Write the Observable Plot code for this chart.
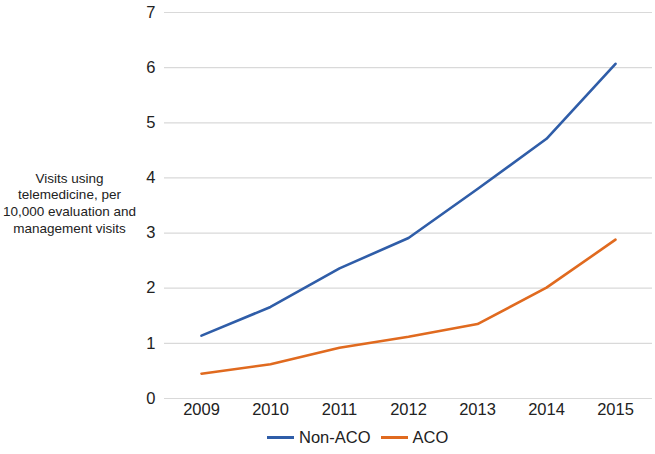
<!DOCTYPE html>
<html>
<head>
<meta charset="utf-8">
<script src="https://cdn.jsdelivr.net/npm/d3@7"></script>
<script src="https://cdn.jsdelivr.net/npm/@observablehq/plot@0.6"></script>
<style>
  body { margin: 0; background: #fff; font-family: "Liberation Sans", Arial, sans-serif; }
  #wrap { position: relative; width: 655px; height: 454px; }
  #legend { position: absolute; left: 267px; top: 428px; display: flex; align-items: center; font-size: 16.5px; color: #222; }
  .sw { display: inline-block; width: 27px; height: 3px; margin-right: 5px; }
  .item { display: flex; align-items: center; margin-right: 10px; }
</style>
</head>
<body>
<div id="wrap">
  <div id="chart"></div>
  <div id="legend"></div>
</div>
<script>
const years = ["2009", "2010", "2011", "2012", "2013", "2014", "2015"];
const nonACO = [1.14, 1.66, 2.36, 2.91, 3.80, 4.71, 6.07];
const aco = [0.45, 0.62, 0.92, 1.12, 1.35, 2.01, 2.88];
const seriesNames = ["Non-ACO", "ACO"];
const seriesColors = ["#2f5da8", "#e06a1f"];
const yTicks = [0, 1, 2, 3, 4, 5, 6, 7];
const yLabel = "Visits using\ntelemedicine, per\n10,000 evaluation and\nmanagement visits";

const data = [];
years.forEach((yr, i) => {
  data.push({year: yr, value: nonACO[i], series: seriesNames[0]});
  data.push({year: yr, value: aco[i], series: seriesNames[1]});
});

const chart = Plot.plot({
  width: 655,
  height: 426,
  marginTop: 12,
  marginBottom: 28,
  marginLeft: 164,
  marginRight: 3,
  style: { fontFamily: "Liberation Sans, Arial, sans-serif", fontSize: "16.5px", color: "#222", background: "#fff" },
  x: { type: "point", domain: years, padding: 0.5, label: null },
  y: { domain: [0, 7], label: null },
  color: { domain: seriesNames, range: seriesColors },
  marks: [
    Plot.ruleY(yTicks, { stroke: "#d9d9d9", strokeWidth: 1.2 }),
    Plot.axisX({ tickSize: 0, tickPadding: 5, label: null, fontSize: 16.5 }),
    Plot.axisY(yTicks, { tickSize: 0, tickPadding: 9, label: null, fontSize: 16.5, tickFormat: "d" }),
    Plot.line(data, { x: "year", y: "value", z: "series", stroke: "series", strokeWidth: 2.6 }),
    Plot.text([yLabel], { frameAnchor: "left", dx: -95, dy: -3, textAnchor: "middle", lineHeight: 1.25, fontSize: 13.5, fill: "#222" })
  ]
});
document.getElementById("chart").appendChild(chart);

const legend = document.getElementById("legend");
seriesNames.forEach((name, i) => {
  const item = document.createElement("div");
  item.className = "item";
  const sw = document.createElement("span");
  sw.className = "sw";
  sw.style.background = seriesColors[i];
  item.appendChild(sw);
  const t = document.createElement("span");
  t.textContent = name;
  item.appendChild(t);
  legend.appendChild(item);
});
</script>
</body>
</html>
